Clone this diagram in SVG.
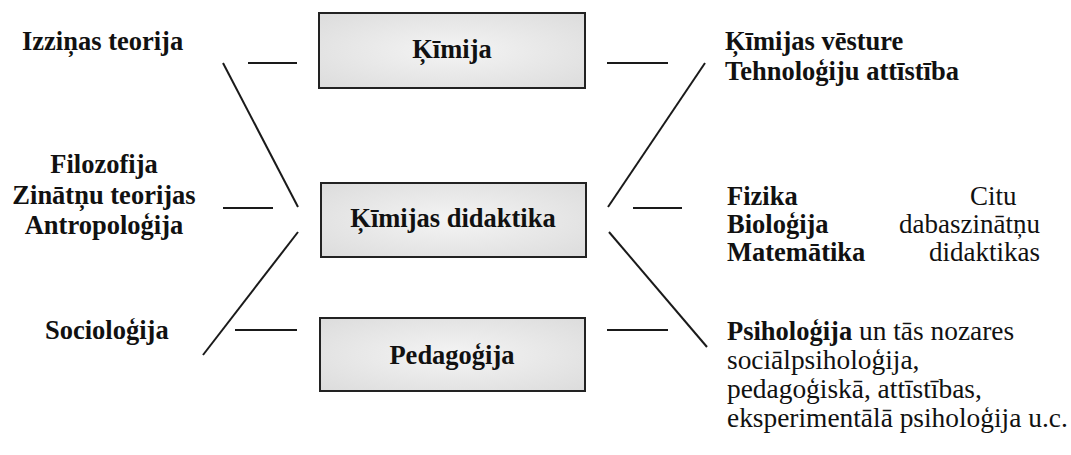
<svg xmlns="http://www.w3.org/2000/svg" width="1071" height="455" viewBox="0 0 1071 455">
<style>
.b{font-family:"Liberation Serif","Times New Roman",serif;font-weight:bold;font-size:26.5px;fill:#111}
.r{font-family:"Liberation Serif","Times New Roman",serif;font-size:27px;fill:#111}
.r2{font-family:"Liberation Serif","Times New Roman",serif;font-size:27.4px;fill:#111}
.box{stroke:#222;stroke-width:2;fill:url(#g)}
.ln{stroke:#1a1a1a;stroke-width:2;fill:none}
</style>
<defs>
<radialGradient id="g" cx="0.5" cy="0.5" r="0.7">
<stop offset="0" stop-color="#f4f4f4"/>
<stop offset="1" stop-color="#dcdcdc"/>
</radialGradient>
</defs>
<rect width="1071" height="455" fill="#fff"/>
<g id="connectors">
<line class="ln" x1="248" y1="63" x2="297" y2="63"/>
<line class="ln" x1="223" y1="63" x2="298" y2="207"/>
<line class="ln" x1="223" y1="208" x2="273" y2="208"/>
<line class="ln" x1="298" y1="232" x2="203" y2="355"/>
<line class="ln" x1="235" y1="330" x2="297" y2="330"/>
<line class="ln" x1="607" y1="63" x2="668" y2="63"/>
<line class="ln" x1="705" y1="63" x2="608" y2="207"/>
<line class="ln" x1="633" y1="208" x2="682" y2="208"/>
<line class="ln" x1="609" y1="232" x2="707" y2="347"/>
<line class="ln" x1="607" y1="330" x2="668" y2="330"/>
</g>
<g id="n-kimija">
<rect class="box" x="319" y="13" width="266" height="75"/>
<text class="b" x="452" y="58" text-anchor="middle">Ķīmija</text>
</g>
<g id="n-didaktika">
<rect class="box" x="321" y="183" width="265" height="74"/>
<text class="b" x="453" y="227" text-anchor="middle">Ķīmijas didaktika</text>
</g>
<g id="n-pedagogija">
<rect class="box" x="320" y="318" width="265" height="73"/>
<text class="b" x="452" y="364" text-anchor="middle">Pedagoģija</text>
</g>
<g id="n-izzinas">
<text class="b" x="22" y="50">Izziņas teorija</text>
</g>
<g id="n-filozofija">
<text class="b" x="104" y="173" text-anchor="middle">Filozofija</text>
<text class="b" x="104" y="204" text-anchor="middle">Zinātņu teorijas</text>
<text class="b" x="104" y="234" text-anchor="middle">Antropoloģija</text>
</g>
<g id="n-sociologija">
<text class="b" x="45" y="339">Socioloģija</text>
</g>
<g id="n-vesture">
<text class="b" x="725" y="50">Ķīmijas vēsture</text>
<text class="b" x="725" y="80">Tehnoloģiju attīstība</text>
</g>
<g id="n-fizika">
<text class="b" x="727" y="205">Fizika</text>
<text class="b" x="727" y="233">Bioloģija</text>
<text class="b" x="727" y="261">Matemātika</text>
<text class="r" x="970" y="205">Citu</text>
<text class="r" x="1040" y="233" text-anchor="end">dabaszinātņu</text>
<text class="r" x="1040" y="261" text-anchor="end">didaktikas</text>
</g>
<g id="n-psihologija">
<text class="r2" x="727" y="340"><tspan class="b">Psiholoģija</tspan> un tās nozares</text>
<text class="r2" x="727" y="369">sociālpsiholoģija,</text>
<text class="r2" x="727" y="398">pedagoģiskā, attīstības,</text>
<text class="r2" x="727" y="427">eksperimentālā psiholoģija u.c.</text>
</g>
</svg>
